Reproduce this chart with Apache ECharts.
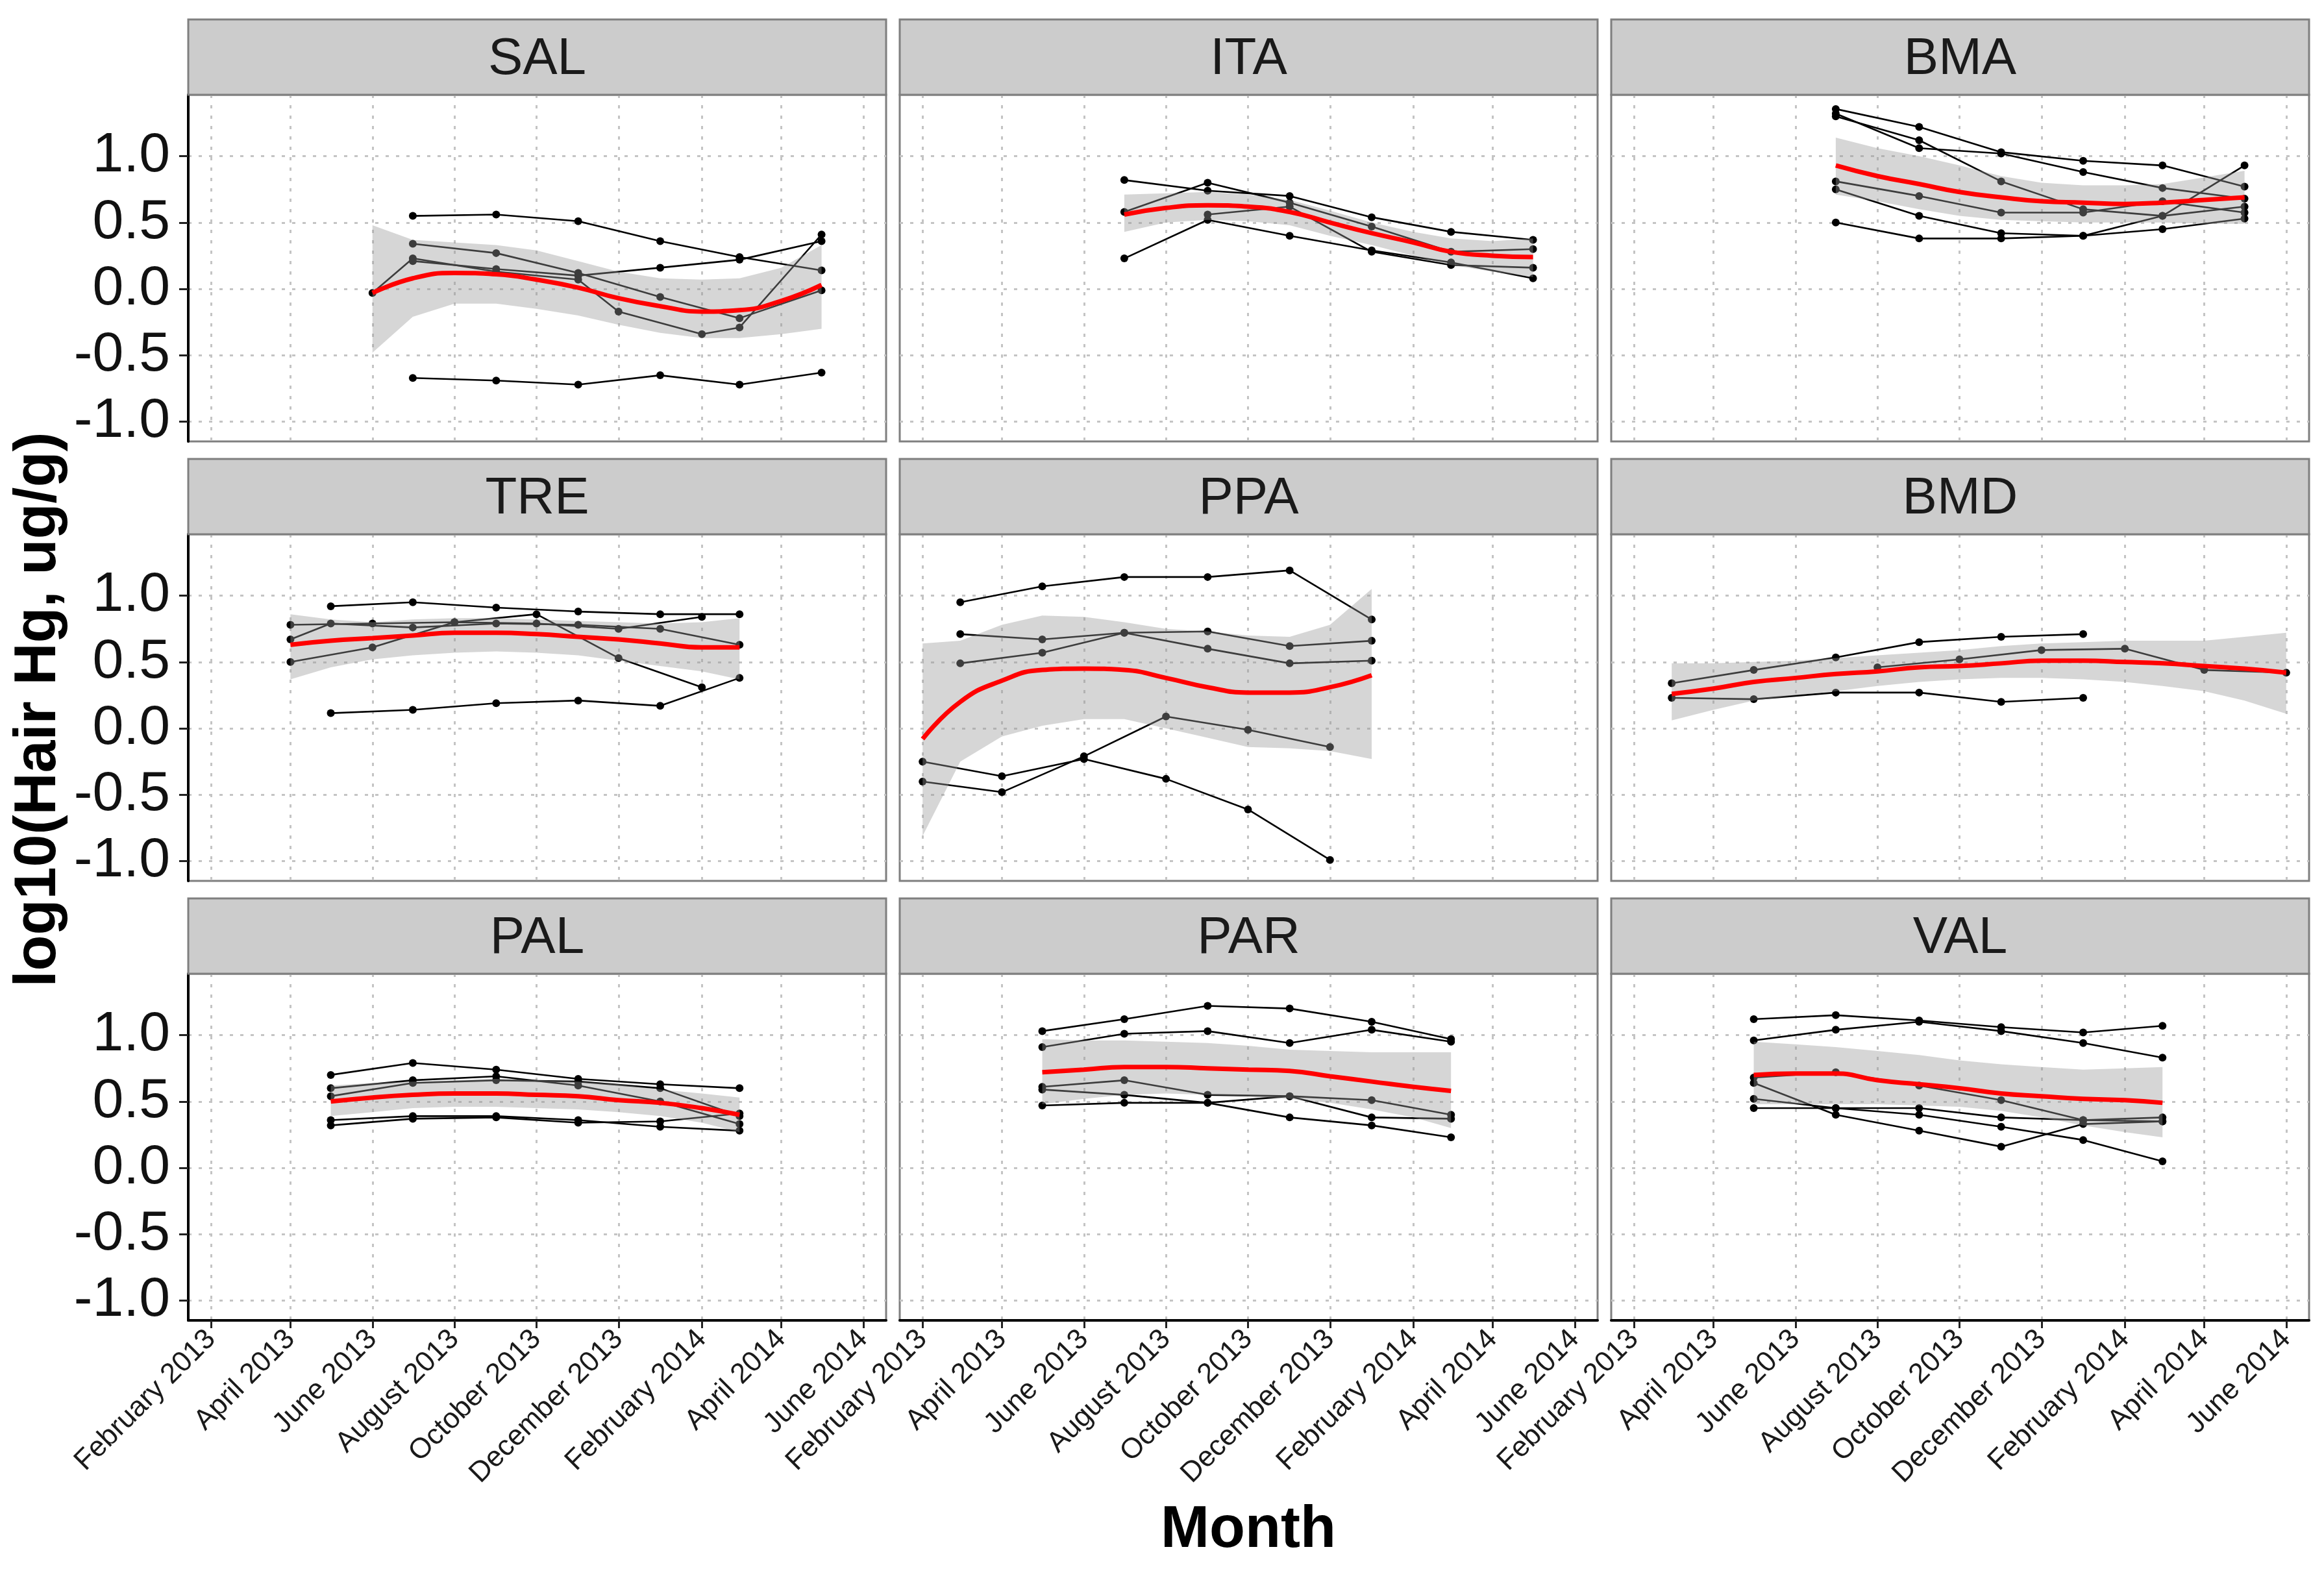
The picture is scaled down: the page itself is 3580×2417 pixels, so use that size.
<!DOCTYPE html>
<html><head><meta charset="utf-8">
<script src="https://cdn.jsdelivr.net/npm/echarts@6/dist/echarts.min.js"></script>
<style>html,body{margin:0;padding:0;background:#fff}#c{width:3580px;height:2417px}</style>
</head><body><div id="c"></div>
<script>
// ---------- tick labels / categories ----------
const panelNames = ['SAL','ITA','BMA','TRE','PPA','BMD','PAL','PAR','VAL'];
const tickMonths = ['2013-02','2013-04','2013-06','2013-08','2013-10','2013-12','2014-02','2014-04','2014-06'];
const monthNames = ['January','February','March','April','May','June','July','August','September','October','November','December'];
const yTicks = [-1.0, -0.5, 0.0, 0.5, 1.0];

// ---------- SAL ----------
const SAL_id1 = [['2013-07',0.55],['2013-09',0.56],['2013-11',0.51],['2014-01',0.36],['2014-03',0.24],['2014-05',0.14]];
const SAL_id2 = [['2013-07',0.34],['2013-09',0.27],['2013-11',0.12],['2014-01',-0.06],['2014-03',-0.22],['2014-05',-0.01]];
const SAL_id3 = [['2013-07',0.21],['2013-09',0.15],['2013-11',0.10],['2014-01',0.16],['2014-03',0.22],['2014-05',0.36]];
const SAL_id4 = [['2013-06',-0.03],['2013-07',0.23],['2013-09',0.13],['2013-11',0.07],['2013-12',-0.17],['2014-02',-0.34],['2014-03',-0.29],['2014-05',0.41]];
const SAL_id5 = [['2013-07',-0.67],['2013-09',-0.69],['2013-11',-0.72],['2014-01',-0.65],['2014-03',-0.72],['2014-05',-0.63]];
const SAL_months = ['2013-06','2013-07','2013-08','2013-09','2013-10','2013-11','2013-12','2014-01','2014-02','2014-03','2014-04','2014-05'];
const SAL_fit = [-0.03, 0.08, 0.12, 0.11, 0.07, 0.01, -0.07, -0.13, -0.17, -0.16, -0.09, 0.03];
const SAL_lo  = [-0.48, -0.21, -0.11, -0.11, -0.15, -0.20, -0.27, -0.33, -0.37, -0.37, -0.34, -0.30];
const SAL_hi  = [0.48, 0.37, 0.35, 0.33, 0.29, 0.21, 0.13, 0.08, 0.07, 0.08, 0.16, 0.33];

// ---------- ITA ----------
const ITA_id1 = [['2013-07',0.82],['2013-09',0.74],['2013-11',0.70],['2014-01',0.54],['2014-03',0.43],['2014-05',0.37]];
const ITA_id2 = [['2013-07',0.58],['2013-09',0.80],['2013-11',0.65],['2014-01',0.47],['2014-03',0.28],['2014-05',0.30]];
const ITA_id3 = [['2013-07',0.23],['2013-09',0.52],['2013-11',0.40],['2014-01',0.29],['2014-03',0.20],['2014-05',0.08]];
const ITA_id4 = [['2013-09',0.56],['2013-11',0.62],['2014-01',0.28],['2014-03',0.18],['2014-05',0.16]];
const ITA_months = ['2013-07','2013-08','2013-09','2013-10','2013-11','2013-12','2014-01','2014-02','2014-03','2014-04','2014-05'];
const ITA_fit = [0.56, 0.61, 0.63, 0.62, 0.58, 0.50, 0.42, 0.35, 0.28, 0.25, 0.24];
const ITA_lo  = [0.43, 0.50, 0.52, 0.51, 0.48, 0.40, 0.33, 0.25, 0.18, 0.13, 0.09];
const ITA_hi  = [0.71, 0.72, 0.73, 0.71, 0.67, 0.59, 0.50, 0.43, 0.38, 0.36, 0.38];

// ---------- BMA ----------
const BMA_id1 = [['2013-07',1.355],['2013-09',1.22],['2013-11',1.03],['2014-01',0.965],['2014-03',0.93],['2014-05',0.77]];
const BMA_id2 = [['2013-07',1.32],['2013-09',1.06],['2013-11',1.02],['2014-01',0.88],['2014-03',0.76],['2014-05',0.68]];
const BMA_id3 = [['2013-07',1.30],['2013-09',1.12],['2013-11',0.81],['2014-01',0.60],['2014-03',0.55],['2014-05',0.93]];
const BMA_id4 = [['2013-07',0.81],['2013-09',0.70],['2013-11',0.575],['2014-01',0.575],['2014-03',0.66],['2014-05',0.575]];
const BMA_id5 = [['2013-07',0.75],['2013-09',0.55],['2013-11',0.42],['2014-01',0.40],['2014-03',0.45],['2014-05',0.53]];
const BMA_id6 = [['2013-07',0.50],['2013-09',0.38],['2013-11',0.38],['2014-01',0.40],['2014-03',0.55],['2014-05',0.62]];
const BMA_months = ['2013-07','2013-08','2013-09','2013-10','2013-11','2013-12','2014-01','2014-02','2014-03','2014-04','2014-05'];
const BMA_fit = [0.93, 0.85, 0.79, 0.73, 0.69, 0.66, 0.65, 0.64, 0.65, 0.67, 0.69];
const BMA_lo  = [0.71, 0.66, 0.60, 0.55, 0.52, 0.51, 0.50, 0.50, 0.50, 0.49, 0.49];
const BMA_hi  = [1.14, 1.06, 1.00, 0.93, 0.85, 0.80, 0.78, 0.78, 0.79, 0.84, 0.89];

// ---------- TRE ----------
const TRE_id1 = [['2013-05',0.92],['2013-07',0.95],['2013-09',0.91],['2013-11',0.88],['2014-01',0.86],['2014-03',0.86]];
const TRE_id2 = [['2013-05',0.115],['2013-07',0.14],['2013-09',0.19],['2013-11',0.21],['2014-01',0.17],['2014-03',0.38]];
const TRE_id3 = [['2013-04',0.50],['2013-06',0.61],['2013-08',0.80],['2013-10',0.86],['2013-12',0.53],['2014-02',0.31]];
const TRE_id4 = [['2013-04',0.78],['2013-06',0.79],['2013-08',0.80],['2013-10',0.79],['2013-12',0.75],['2014-02',0.84]];
const TRE_id5 = [['2013-04',0.67],['2013-05',0.79],['2013-07',0.76],['2013-09',0.79],['2013-11',0.78],['2014-01',0.75],['2014-03',0.63]];
const TRE_months = ['2013-04','2013-05','2013-06','2013-07','2013-08','2013-09','2013-10','2013-11','2013-12','2014-01','2014-02','2014-03'];
const TRE_fit = [0.63, 0.66, 0.68, 0.70, 0.72, 0.72, 0.71, 0.69, 0.67, 0.64, 0.61, 0.61];
const TRE_lo  = [0.37, 0.46, 0.52, 0.55, 0.57, 0.58, 0.57, 0.55, 0.51, 0.47, 0.43, 0.37];
const TRE_hi  = [0.86, 0.82, 0.80, 0.82, 0.83, 0.83, 0.82, 0.81, 0.80, 0.79, 0.80, 0.83];

// ---------- PPA ----------
const PPA_id1 = [['2013-03',0.95],['2013-05',1.07],['2013-07',1.14],['2013-09',1.14],['2013-11',1.19],['2014-01',0.82]];
const PPA_id2 = [['2013-03',0.71],['2013-05',0.67],['2013-07',0.72],['2013-09',0.73],['2013-11',0.62],['2014-01',0.66]];
const PPA_id3 = [['2013-03',0.49],['2013-05',0.57],['2013-07',0.72],['2013-09',0.60],['2013-11',0.49],['2014-01',0.51]];
const PPA_id4 = [['2013-02',-0.25],['2013-04',-0.36],['2013-06',-0.23],['2013-08',-0.38],['2013-10',-0.61],['2013-12',-0.99]];
const PPA_id5 = [['2013-02',-0.40],['2013-04',-0.48],['2013-06',-0.21],['2013-08',0.09],['2013-10',-0.01],['2013-12',-0.14]];
const PPA_months = ['2013-02','2013-03','2013-04','2013-05','2013-06','2013-07','2013-08','2013-09','2013-10','2013-11','2013-12','2014-01'];
const PPA_fit = [-0.08, 0.20, 0.36, 0.44, 0.45, 0.44, 0.38, 0.31, 0.27, 0.27, 0.31, 0.40];
const PPA_lo  = [-0.81, -0.25, -0.06, 0.02, 0.07, 0.07, 0.00, -0.07, -0.14, -0.15, -0.17, -0.23];
const PPA_hi  = [0.64, 0.66, 0.78, 0.85, 0.84, 0.80, 0.75, 0.73, 0.70, 0.69, 0.78, 1.05];

// ---------- BMD ----------
const BMD_id1 = [['2013-03',0.34],['2013-05',0.44],['2013-07',0.535],['2013-09',0.65],['2013-11',0.69],['2014-01',0.71]];
const BMD_id2 = [['2013-03',0.23],['2013-05',0.22],['2013-07',0.27],['2013-09',0.27],['2013-11',0.20],['2014-01',0.23]];
const BMD_id3 = [['2013-08',0.46],['2013-10',0.52],['2013-12',0.59],['2014-02',0.60],['2014-04',0.44],['2014-06',0.42]];
const BMD_months = ['2013-03','2013-04','2013-05','2013-06','2013-07','2013-08','2013-09','2013-10','2013-11','2013-12','2014-01','2014-02','2014-03','2014-04','2014-05','2014-06'];
const BMD_fit = [0.26, 0.30, 0.35, 0.38, 0.41, 0.43, 0.46, 0.47, 0.49, 0.51, 0.51, 0.50, 0.49, 0.47, 0.45, 0.42];
const BMD_lo  = [0.06, 0.14, 0.21, 0.25, 0.28, 0.32, 0.35, 0.37, 0.38, 0.38, 0.37, 0.35, 0.32, 0.28, 0.21, 0.11];
const BMD_hi  = [0.49, 0.49, 0.50, 0.51, 0.53, 0.55, 0.57, 0.59, 0.62, 0.64, 0.65, 0.66, 0.66, 0.66, 0.69, 0.72];

// ---------- PAL ----------
const PAL_id1 = [['2013-05',0.70],['2013-07',0.79],['2013-09',0.74],['2013-11',0.67],['2014-01',0.63],['2014-03',0.60]];
const PAL_id2 = [['2013-05',0.60],['2013-07',0.66],['2013-09',0.69],['2013-11',0.62],['2014-01',0.50],['2014-03',0.33]];
const PAL_id3 = [['2013-05',0.54],['2013-07',0.64],['2013-09',0.66],['2013-11',0.65],['2014-01',0.60],['2014-03',0.39]];
const PAL_id4 = [['2013-05',0.36],['2013-07',0.39],['2013-09',0.39],['2013-11',0.36],['2014-01',0.31],['2014-03',0.28]];
const PAL_id5 = [['2013-05',0.32],['2013-07',0.37],['2013-09',0.38],['2013-11',0.34],['2014-01',0.35],['2014-03',0.41]];
const PAL_months = ['2013-05','2013-06','2013-07','2013-08','2013-09','2013-10','2013-11','2013-12','2014-01','2014-02','2014-03'];
const PAL_fit = [0.50, 0.53, 0.55, 0.56, 0.56, 0.55, 0.54, 0.51, 0.49, 0.45, 0.40];
const PAL_lo  = [0.39, 0.42, 0.45, 0.46, 0.46, 0.45, 0.44, 0.42, 0.39, 0.34, 0.27];
const PAL_hi  = [0.62, 0.64, 0.65, 0.66, 0.67, 0.66, 0.65, 0.63, 0.59, 0.56, 0.53];

// ---------- PAR ----------
const PAR_id1 = [['2013-05',1.03],['2013-07',1.12],['2013-09',1.22],['2013-11',1.20],['2014-01',1.10],['2014-03',0.97]];
const PAR_id2 = [['2013-05',0.91],['2013-07',1.01],['2013-09',1.03],['2013-11',0.94],['2014-01',1.04],['2014-03',0.95]];
const PAR_id3 = [['2013-05',0.61],['2013-07',0.66],['2013-09',0.55],['2013-11',0.54],['2014-01',0.51],['2014-03',0.40]];
const PAR_id4 = [['2013-05',0.47],['2013-07',0.49],['2013-09',0.49],['2013-11',0.54],['2014-01',0.38],['2014-03',0.37]];
const PAR_id5 = [['2013-05',0.59],['2013-07',0.55],['2013-09',0.49],['2013-11',0.38],['2014-01',0.32],['2014-03',0.23]];
const PAR_months = ['2013-05','2013-06','2013-07','2013-08','2013-09','2013-10','2013-11','2013-12','2014-01','2014-02','2014-03'];
const PAR_fit = [0.72, 0.74, 0.76, 0.76, 0.75, 0.74, 0.73, 0.69, 0.65, 0.61, 0.58];
const PAR_lo  = [0.48, 0.52, 0.55, 0.56, 0.55, 0.54, 0.52, 0.49, 0.44, 0.38, 0.30];
const PAR_hi  = [0.97, 0.96, 0.96, 0.95, 0.94, 0.92, 0.89, 0.88, 0.87, 0.87, 0.87];

// ---------- VAL ----------
const VAL_id1 = [['2013-05',1.12],['2013-07',1.15],['2013-09',1.11],['2013-11',1.06],['2014-01',1.02],['2014-03',1.07]];
const VAL_id2 = [['2013-05',0.96],['2013-07',1.04],['2013-09',1.10],['2013-11',1.03],['2014-01',0.94],['2014-03',0.83]];
const VAL_id3 = [['2013-05',0.68],['2013-07',0.72],['2013-09',0.62],['2013-11',0.51],['2014-01',0.36],['2014-03',0.35]];
const VAL_id4 = [['2013-05',0.64],['2013-07',0.40],['2013-09',0.28],['2013-11',0.16],['2014-01',0.33],['2014-03',0.35]];
const VAL_id5 = [['2013-05',0.52],['2013-07',0.45],['2013-09',0.45],['2013-11',0.38],['2014-01',0.36],['2014-03',0.38]];
const VAL_id6 = [['2013-05',0.45],['2013-07',0.45],['2013-09',0.40],['2013-11',0.31],['2014-01',0.21],['2014-03',0.05]];
const VAL_months = ['2013-05','2013-06','2013-07','2013-08','2013-09','2013-10','2013-11','2013-12','2014-01','2014-02','2014-03'];
const VAL_fit = [0.70, 0.71, 0.71, 0.66, 0.63, 0.60, 0.56, 0.54, 0.52, 0.51, 0.49];
const VAL_lo  = [0.48, 0.48, 0.48, 0.48, 0.47, 0.46, 0.43, 0.38, 0.32, 0.27, 0.23];
const VAL_hi  = [0.95, 0.93, 0.91, 0.88, 0.85, 0.81, 0.78, 0.76, 0.74, 0.75, 0.76];

// ---------- assemble ----------
const panelLines = [
  [SAL_id1,SAL_id2,SAL_id3,SAL_id4,SAL_id5],
  [ITA_id1,ITA_id2,ITA_id3,ITA_id4],
  [BMA_id1,BMA_id2,BMA_id3,BMA_id4,BMA_id5,BMA_id6],
  [TRE_id1,TRE_id2,TRE_id3,TRE_id4,TRE_id5],
  [PPA_id1,PPA_id2,PPA_id3,PPA_id4,PPA_id5],
  [BMD_id1,BMD_id2,BMD_id3],
  [PAL_id1,PAL_id2,PAL_id3,PAL_id4,PAL_id5],
  [PAR_id1,PAR_id2,PAR_id3,PAR_id4,PAR_id5],
  [VAL_id1,VAL_id2,VAL_id3,VAL_id4,VAL_id5,VAL_id6]
];
const panelMonths = [SAL_months,ITA_months,BMA_months,TRE_months,PPA_months,BMD_months,PAL_months,PAR_months,VAL_months];
const panelFit = [SAL_fit,ITA_fit,BMA_fit,TRE_fit,PPA_fit,BMD_fit,PAL_fit,PAR_fit,VAL_fit];
const panelLo = [SAL_lo,ITA_lo,BMA_lo,TRE_lo,PPA_lo,BMD_lo,PAL_lo,PAR_lo,VAL_lo];
const panelHi = [SAL_hi,ITA_hi,BMA_hi,TRE_hi,PPA_hi,BMD_hi,PAL_hi,PAR_hi,VAL_hi];

// dates are placed on a numeric (day-count) axis
function ts(m){ const p = m.split('-').map(Number); return Date.UTC(p[0], p[1]-1, 1) / 86400000; }
function dayLabel(v){ const d = new Date(Math.round(v) * 86400000); return monthNames[d.getUTCMonth()] + ' ' + d.getUTCFullYear(); }

const colLeft = [290, 1386, 2482];
const panelW = 1075;
const rowTop = [30, 707, 1384];
const stripH = 116, plotH = 534;
const xMin = Date.UTC(2013, 0, 15) / 86400000, xMax = Date.UTC(2014, 5, 18) / 86400000;
const yMin = -1.148, yMax = 1.462;
const gridColor = '#c4c4c4';
const xTickVals = tickMonths.map(ts);

const grids = [], xAxes = [], yAxes = [], series = [], graphics = [];
panelNames.forEach((name, i) => {
  const r = Math.floor(i / 3), c = i % 3;
  grids.push({left: colLeft[c], top: rowTop[r] + stripH, width: panelW, height: plotH,
    show: true, borderColor: '#7f7f7f', borderWidth: 3, backgroundColor: '#fff'});
  xAxes.push({type: 'value', gridIndex: i, min: xMin, max: xMax,
    axisLine: {show: r === 2, onZero: false, lineStyle: {color: '#000', width: 4}},
    axisTick: {show: r === 2, customValues: xTickVals, length: 12, lineStyle: {color: '#222', width: 3}},
    axisLabel: {show: r === 2, customValues: xTickVals, rotate: 45, fontSize: 44, color: '#1a1a1a', margin: 22,
      fontFamily: 'Liberation Sans', formatter: v => dayLabel(v)},
    splitLine: {show: true, lineStyle: {color: gridColor, width: 3, type: [5, 11]}}
  });
  yAxes.push({type: 'value', gridIndex: i, min: yMin, max: yMax,
    axisLine: {show: c === 0, onZero: false, lineStyle: {color: '#000', width: 4}},
    axisTick: {show: c === 0, customValues: yTicks, length: 14, lineStyle: {color: '#222', width: 3}},
    axisLabel: {show: c === 0, customValues: yTicks, fontSize: 86, color: '#111', margin: 28, fontFamily: 'Liberation Sans',
      formatter: v => v.toFixed(1)},
    splitLine: {show: true, lineStyle: {color: gridColor, width: 3, type: [5, 11]}}
  });
  panelLines[i].forEach(ln => {
    series.push({type: 'line', xAxisIndex: i, yAxisIndex: i, z: 2, silent: true,
      data: ln.map(p => [ts(p[0]), p[1]]),
      symbol: 'circle', symbolSize: 12, showSymbol: true,
      lineStyle: {color: '#000', width: 2.6}, itemStyle: {color: '#000'}});
  });
  const months = panelMonths[i];
  const bandData = months.map((m, k) => [ts(m), panelLo[i][k], panelHi[i][k]]);
  series.push({type: 'custom', xAxisIndex: i, yAxisIndex: i, z: 3, silent: true,
    data: bandData, encode: {x: 0, y: [1, 2]},
    renderItem: (params, api) => {
      if (params.dataIndex !== 0) return null;
      const upper = bandData.map(d => api.coord([d[0], d[2]]));
      const lower = bandData.map(d => api.coord([d[0], d[1]])).reverse();
      return {type: 'polygon', shape: {points: upper.concat(lower)},
        style: {fill: 'rgba(153,153,153,0.4)', stroke: null}};
    }});
  series.push({type: 'line', xAxisIndex: i, yAxisIndex: i, z: 4, silent: true,
    smooth: true, symbol: 'none', lineStyle: {color: '#ff0000', width: 7},
    data: months.map((m, k) => [ts(m), panelFit[i][k]])});

  graphics.push({type: 'rect', shape: {x: colLeft[c], y: rowTop[r], width: panelW, height: stripH},
    style: {fill: '#cccccc', stroke: '#7f7f7f', lineWidth: 3}, z: 10});
  graphics.push({type: 'text', x: colLeft[c] + panelW / 2, y: rowTop[r] + stripH / 2 + 4, z: 11,
    style: {text: name, fill: '#1a1a1a', fontSize: 80, fontFamily: 'Liberation Sans', align: 'center', verticalAlign: 'middle'}});
});

graphics.push({type: 'text', x: 60, y: 1093, rotation: Math.PI / 2, z: 11,
  style: {text: 'log10(Hair Hg, ug/g)', fill: '#000', fontSize: 90, fontWeight: 'bold', fontFamily: 'Liberation Sans',
    align: 'center', verticalAlign: 'middle'}});
graphics.push({type: 'text', x: 1923, y: 2358, z: 11,
  style: {text: 'Month', fill: '#000', fontSize: 90, fontWeight: 'bold', fontFamily: 'Liberation Sans',
    align: 'center', verticalAlign: 'middle'}});

const chart = echarts.init(document.getElementById('c'), null, {renderer: 'canvas'});
chart.setOption({
  animation: false,
  backgroundColor: '#fff',
  textStyle: {fontFamily: 'Liberation Sans'},
  grid: grids, xAxis: xAxes, yAxis: yAxes, series: series, graphic: graphics
});
</script></body></html>
